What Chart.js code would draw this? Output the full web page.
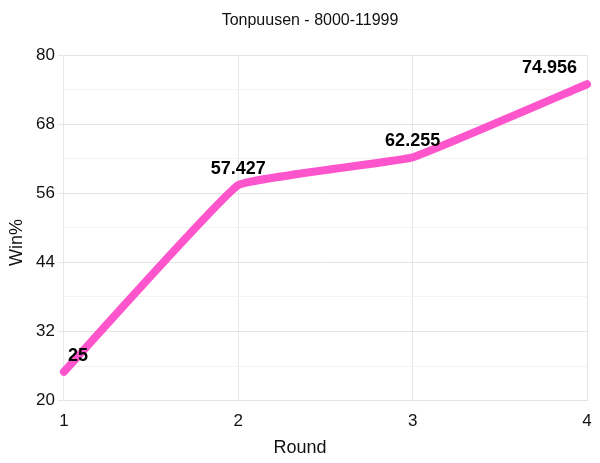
<!DOCTYPE html>
<html>
<head>
<meta charset="utf-8">
<script src="https://cdn.jsdelivr.net/npm/chart.js@4"></script>
<style>
  html, body { margin: 0; padding: 0; background: #fff; }
  #wrap { width: 600px; height: 463px; }
</style>
</head>
<body>
<div id="wrap"><canvas id="chart"></canvas></div>
<script>
// Datos del gráfico
const rounds = [1, 2, 3, 4];
const winPct = [25, 57.427, 62.255, 74.956];
const pointLabels = ['25', '57.427', '62.255', '74.956'];
const chartTitle = 'Tonpuusen - 8000-11999';
const xTitle = 'Round';
const yTitle = 'Win%';
const lineColor = '#ff55cc';

const FONT = '"Liberation Sans", Arial, sans-serif';
Chart.defaults.font.family = FONT;
Chart.defaults.color = '#111';

// Etiquetas de valor encima de cada punto (limitadas al área del gráfico)
// y títulos de los ejes centrados en el lienzo
const valueLabels = {
    id: 'valueLabels',
    afterDatasetsDraw(chart) {
        const ctx = chart.ctx;
        const area = chart.chartArea;
        const meta = chart.getDatasetMeta(0);
        ctx.save();
        ctx.font = 'bold 18px ' + FONT;
        ctx.fillStyle = '#000';
        ctx.textBaseline = 'alphabetic';
        ctx.textAlign = 'left';
        meta.data.forEach((pt, i) => {
            const text = pointLabels[i];
            const w = ctx.measureText(text).width;
            let x = pt.x - w / 2;
            if (x < area.left + 4) x = area.left + 4;
            if (x + w > area.right - 10) x = area.right - 10 - w;
            ctx.fillText(text, x, pt.y - 11);
        });

        // títulos de ejes
        ctx.font = '18px ' + FONT;
        ctx.fillStyle = '#111';
        ctx.textAlign = 'center';
        ctx.textBaseline = 'middle';
        ctx.fillText(xTitle, chart.width / 2, chart.height - 15);
        ctx.translate(17, chart.height / 2 + 11);
        ctx.rotate(-Math.PI / 2);
        ctx.fillText(yTitle, 0, 0);
        ctx.restore();
    }
};

new Chart(document.getElementById('chart').getContext('2d'), {
    type: 'line',
    data: {
        datasets: [{
            data: rounds.map((r, i) => ({ x: r, y: winPct[i] })),
            borderColor: lineColor,
            backgroundColor: lineColor,
            borderWidth: 8,
            borderCapStyle: 'round',
            borderJoinStyle: 'round',
            pointRadius: 0,
            tension: 0.08,
            fill: false,
            clip: false,
        }],
    },
    options: {
        responsive: true,
        maintainAspectRatio: false,
        animation: false,
        layout: { padding: { top: 9, right: 13, bottom: 20, left: 33 } },
        plugins: {
            legend: { display: false },
            tooltip: { enabled: false },
            title: {
                display: true,
                text: chartTitle,
                font: { size: 16, weight: 'normal' },
                color: '#111',
                padding: { top: 2, bottom: 25 },
            },
        },
        scales: {
            x: {
                type: 'linear',
                min: 1,
                max: 4,
                ticks: { stepSize: 1, font: { size: 17 }, color: '#111', padding: 11 },
                grid: { color: '#e6e6e6', drawTicks: false },
                border: { display: false },
                afterFit: scale => { scale.paddingRight = 0; scale.paddingLeft = 0; },
            },
            y: {
                min: 20,
                max: 80,
                ticks: {
                    stepSize: 6,
                    autoSkip: false,
                    font: { size: 17 },
                    color: '#111',
                    callback: v => (v % 12 === 8 ? v : ''),
                },
                grid: {
                    color: ctx => (ctx.tick && ctx.tick.value % 12 === 8 ? '#e4e4e4' : '#f3f3f3'),
                    tickColor: ctx => (ctx.tick && ctx.tick.value % 12 === 8 ? '#e4e4e4' : 'rgba(0,0,0,0)'),
                    tickLength: 6,
                },
                border: { display: false },
            },
        },
    },
    plugins: [valueLabels],
});
</script>
</body>
</html>
